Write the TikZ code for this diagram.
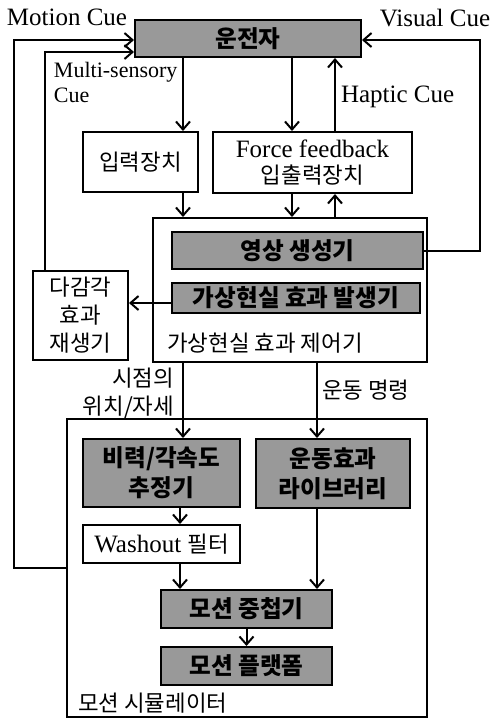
\documentclass[tikz,border=0pt]{standalone}
\usepackage{fontspec}
\setmainfont{Liberation Serif}
\newfontfamily\kr{Noto Sans CJK KR}
\usetikzlibrary{arrows.meta}

\tikzset{
  box/.style={draw, line width=1pt, fill=white, align=center, inner sep=0pt,
    font=\fontsize{12.5}{15}\selectfont},
  shaded/.style={box, fill=black!40, font=\kr\bfseries\fontsize{11.8}{15}\selectfont},
  hangul/.style={font=\kr\fontsize{11.2}{14}\selectfont},
  cue/.style={inner sep=0pt, font=\fontsize{12.5}{15}\selectfont},
}

\begin{document}
\begin{tikzpicture}[x=0.5pt, y=-0.5pt, line width=1pt,
    >={Straight Barb[length=4pt,width=7pt]}]
  \useasboundingbox (0,0) rectangle (489,719);

  % outer blocks
  \node[box, minimum width=137pt, minimum height=72pt] (ctrl) at (290,290) {};
  \node[box, minimum width=180pt, minimum height=149pt] (sim) at (247,568) {};

  \node[shaded, minimum width=113pt, minimum height=18.5pt] (driver) at (248,38.5) {운전자};
  \node[box, hangul, minimum width=57.5pt, minimum height=30pt] (input) at (140.5,162) {입력장치};
  \node[box, minimum width=99.5pt, minimum height=30.5pt] (force) at (312.5,162.5)
    {Force feedback\\[-2pt]{\kr\fontsize{11.2}{14}\selectfont 입출력장치}};
  \node[shaded, minimum width=125.5pt, minimum height=18.5pt] (imggen) at (297.5,250.5) {영상 생성기};
  \node[shaded, minimum width=124pt, minimum height=15pt] (vrgen) at (296,298) {가상현실 효과 발생기};
  \node[box, hangul, minimum width=47.5pt, minimum height=44.5pt] (multi) at (80.5,315.5) {다감각\\효과\\재생기};

  \node[shaded, minimum width=78.5pt, minimum height=34pt] (estim) at (161.5,473) {비력/각속도\\추정기};
  \node[shaded, minimum width=77pt, minimum height=34.5pt] (library) at (333,473.5) {운동효과\\라이브러리};
  \node[box, minimum width=78.5pt, minimum height=19pt] (washout) at (161.5,544)
    {Washout {\kr\fontsize{11.2}{14}\selectfont 필터}};
  \node[shaded, minimum width=85.5pt, minimum height=19pt] (mixer) at (246.5,609) {모션 중첩기};
  \node[shaded, minimum width=85.5pt, minimum height=19pt] (platform) at (246.5,666) {모션 플랫폼};

  % labels
  \node[cue] (motionlbl) at (67,17) {Motion Cue};
  \node[cue] (visuallbl) at (435,18) {Visual Cue};
  \node[cue, anchor=west] (hapticlbl) at (340,97) {Haptic Cue};
  \node[cue, anchor=north west, align=left, font=\fontsize{11}{12.5}\selectfont] (multilbl) at (53,61)
    {Multi-sensory\\Cue};
  \node[hangul, inner sep=0pt] (ctrllbl) at (265,343) {가상현실 효과 제어기};
  \node[hangul, inner sep=0pt, anchor=east, align=right] (viewlbl) at (175,393) {시점의\\위치/자세};
  \node[hangul, inner sep=0pt, anchor=west] (cmdlbl) at (321,390) {운동 명령};
  \node[hangul, inner sep=0pt, anchor=west] (simlbl) at (77,703) {모션 시뮬레이터};

  % columns and corners
  \coordinate (colA) at (183,0);
  \coordinate (colB) at (292,0);
  \coordinate (colC) at (335,0);
  \coordinate (colD) at (317,0);
  \coordinate (colE) at (180,0);
  \coordinate (mcL) at (14,40);
  \coordinate (msL) at (45,52);
  \coordinate (vcR) at (480,40);

  \draw[->] (sim.west) -| (mcL) -- (mcL -| driver.west);
  \draw[->] (multi.north -| msL) -- (msL) -- (msL -| driver.west);
  \draw[->] (imggen.east) -| (vcR) -- (vcR -| driver.east);

  \draw (driver.south -| colA) edge[->] (input.north -| colA);
  \draw (driver.south -| colB) edge[->] (force.north -| colB);
  \draw (force.north -| colC) edge[->] (driver.south -| colC);
  \draw (input.south -| colA) edge[->] (ctrl.north -| colA);
  \draw (force.south -| colB) edge[->] (ctrl.north -| colB);
  \draw (ctrl.north -| colC) edge[->] (force.south -| colC);
  \draw ([yshift=-2.5pt]vrgen.west) edge[->] ([yshift=-2.5pt]vrgen.west -| multi.east);

  \draw (ctrl.south -| colA) edge[->] (estim.north -| colA);
  \draw (ctrl.south -| colD) edge[->] (library.north -| colD);
  \draw (estim.south -| colE) edge[->] (washout.north -| colE);
  \draw (washout.south -| colE) edge[->] (mixer.north -| colE);
  \draw (library.south -| colD) edge[->] (mixer.north -| colD);
  \draw (mixer) edge[->] (platform);
\end{tikzpicture}
\end{document}
